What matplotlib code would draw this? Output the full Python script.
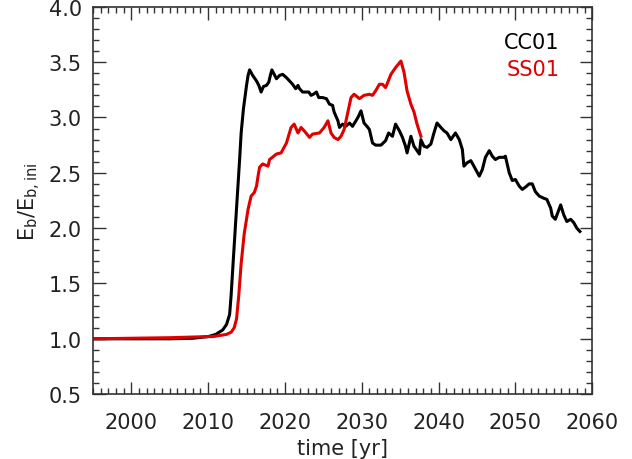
import matplotlib.pyplot as plt
from matplotlib.ticker import MultipleLocator

# CC01 run (black)
cc01_year = [1995.0, 2000.0, 2005.0, 2008.0, 2010.0, 2011.0, 2011.9, 2012.4, 2012.8, 2013.0,
             2013.4, 2013.9, 2014.1, 2014.3, 2014.6, 2015.0, 2015.2, 2015.4, 2015.8, 2016.3,
             2016.6, 2016.9, 2017.2, 2017.6, 2017.9, 2018.1, 2018.3, 2018.6, 2018.9, 2019.3,
             2019.7, 2020.2, 2020.6, 2021.0, 2021.4, 2021.7, 2021.9, 2022.3, 2022.8, 2023.1,
             2023.4, 2023.7, 2024.1, 2024.4, 2024.9, 2025.4, 2025.8, 2026.2, 2026.4, 2026.9,
             2027.1, 2027.5, 2027.9, 2028.4, 2028.8, 2029.5, 2029.9, 2030.3, 2030.8, 2031.0,
             2031.4, 2031.8, 2032.5, 2033.1, 2033.5, 2034.0, 2034.4, 2034.9, 2035.3, 2035.7,
             2035.9, 2036.4, 2036.8, 2037.1, 2037.5, 2037.7, 2038.1, 2038.5, 2039.0, 2039.4,
             2039.8, 2040.3, 2040.7, 2041.1, 2041.6, 2042.2, 2042.7, 2043.1, 2043.3, 2043.7,
             2044.2, 2044.6, 2045.3, 2045.7, 2046.1, 2046.6, 2047.0, 2047.4, 2047.9, 2048.5,
             2048.7, 2049.2, 2049.6, 2050.0, 2050.5, 2050.9, 2051.3, 2051.8, 2052.2, 2052.6,
             2053.1, 2053.7, 2054.1, 2054.6, 2054.8, 2055.2, 2055.9, 2056.3, 2056.7, 2057.2,
             2057.6, 2058.0, 2058.4]
cc01_val = [1.00, 1.00, 1.00, 1.005, 1.02, 1.04, 1.08, 1.13, 1.22, 1.40,
            1.85, 2.40, 2.62, 2.86, 3.08, 3.29, 3.38, 3.43, 3.38, 3.33,
            3.29, 3.23, 3.28, 3.29, 3.32, 3.38, 3.43, 3.39, 3.35, 3.38,
            3.39, 3.36, 3.33, 3.30, 3.26, 3.29, 3.26, 3.23, 3.23, 3.23,
            3.20, 3.21, 3.23, 3.18, 3.18, 3.17, 3.12, 3.11, 3.05, 2.97,
            2.91, 2.94, 2.92, 2.95, 2.92, 3.00, 3.06, 2.95, 2.91, 2.89,
            2.77, 2.75, 2.75, 2.79, 2.86, 2.83, 2.94, 2.88, 2.82, 2.74,
            2.68, 2.83, 2.74, 2.71, 2.67, 2.80, 2.74, 2.73, 2.76, 2.86,
            2.95, 2.91, 2.88, 2.86, 2.80, 2.86, 2.80, 2.71, 2.56, 2.59,
            2.61, 2.56, 2.47, 2.53, 2.64, 2.70, 2.65, 2.62, 2.64, 2.64,
            2.65, 2.50, 2.43, 2.44, 2.38, 2.35, 2.37, 2.40, 2.40, 2.33,
            2.29, 2.27, 2.26, 2.18, 2.11, 2.08, 2.21, 2.12, 2.06, 2.08,
            2.05, 2.00, 1.97]

# SS01 run (red)
ss01_year = [1995.0, 2000.0, 2005.0, 2010.0, 2010.6, 2012.4, 2013.0, 2013.4, 2013.7, 2014.0,
             2014.3, 2014.7, 2015.2, 2015.6, 2016.0, 2016.3, 2016.5, 2016.7, 2017.1, 2017.8,
             2018.0, 2018.9, 2019.5, 2020.2, 2020.8, 2021.2, 2021.7, 2022.1, 2022.5, 2023.2,
             2023.6, 2024.5, 2025.1, 2025.6, 2026.0, 2026.4, 2026.9, 2027.3, 2027.7, 2028.2,
             2028.6, 2029.0, 2029.7, 2030.3, 2031.0, 2031.4, 2031.8, 2032.3, 2032.7, 2033.1,
             2033.4, 2033.8, 2034.4, 2035.1, 2035.5, 2035.9, 2036.4, 2036.8, 2037.2, 2037.7]
ss01_val = [1.00, 1.005, 1.01, 1.02, 1.02, 1.04, 1.06, 1.10, 1.18, 1.40,
            1.68, 1.95, 2.17, 2.29, 2.32, 2.38, 2.47, 2.55, 2.58, 2.56,
            2.62, 2.67, 2.68, 2.77, 2.91, 2.94, 2.86, 2.91, 2.88, 2.82,
            2.85, 2.86, 2.91, 2.97, 2.86, 2.82, 2.80, 2.83, 2.89, 3.05,
            3.18, 3.21, 3.17, 3.20, 3.21, 3.20, 3.24, 3.30, 3.30, 3.27,
            3.32, 3.39, 3.45, 3.51, 3.41, 3.24, 3.12, 3.05, 2.94, 2.83]

red = '#e00000'

plt.rcParams['font.size'] = 15
fig = plt.figure(figsize=(6.32, 4.60), dpi=100)
ax = fig.add_axes([0.147, 0.141, 0.79, 0.842])

ax.plot(cc01_year, cc01_val, color='black', lw=2.2)
ax.plot(ss01_year, ss01_val, color=red, lw=2.2)

ax.set_xlim(1995, 2060)
ax.set_ylim(0.5, 4.0)
ax.xaxis.set_major_locator(MultipleLocator(10))
ax.xaxis.set_minor_locator(MultipleLocator(1))
ax.yaxis.set_major_locator(MultipleLocator(0.5))
ax.yaxis.set_minor_locator(MultipleLocator(0.1))
ax.yaxis.set_major_formatter(lambda v, p: f'{v:.1f}')
ax.tick_params(which='both', direction='in', top=True, right=True, width=1,
               color='#333333', labelcolor='#222222')
ax.tick_params(which='major', length=9, pad=8)
ax.tick_params(axis='x', which='major', pad=13)
ax.tick_params(which='minor', length=4.5)
for s in ax.spines.values():
    s.set_linewidth(1.2)
    s.set_color('#333333')

ax.set_xlabel('time [yr]', labelpad=4, color='#222222')
ax.set_ylabel(r'$\mathregular{E_b/E_{b,ini}}$', labelpad=4, color='#222222')

ax.text(0.935, 0.935, 'CC01', color='black', ha='right', va='top', transform=ax.transAxes)
ax.text(0.935, 0.865, 'SS01', color=red, ha='right', va='top', transform=ax.transAxes)

fig.savefig('out.png', dpi=100)
